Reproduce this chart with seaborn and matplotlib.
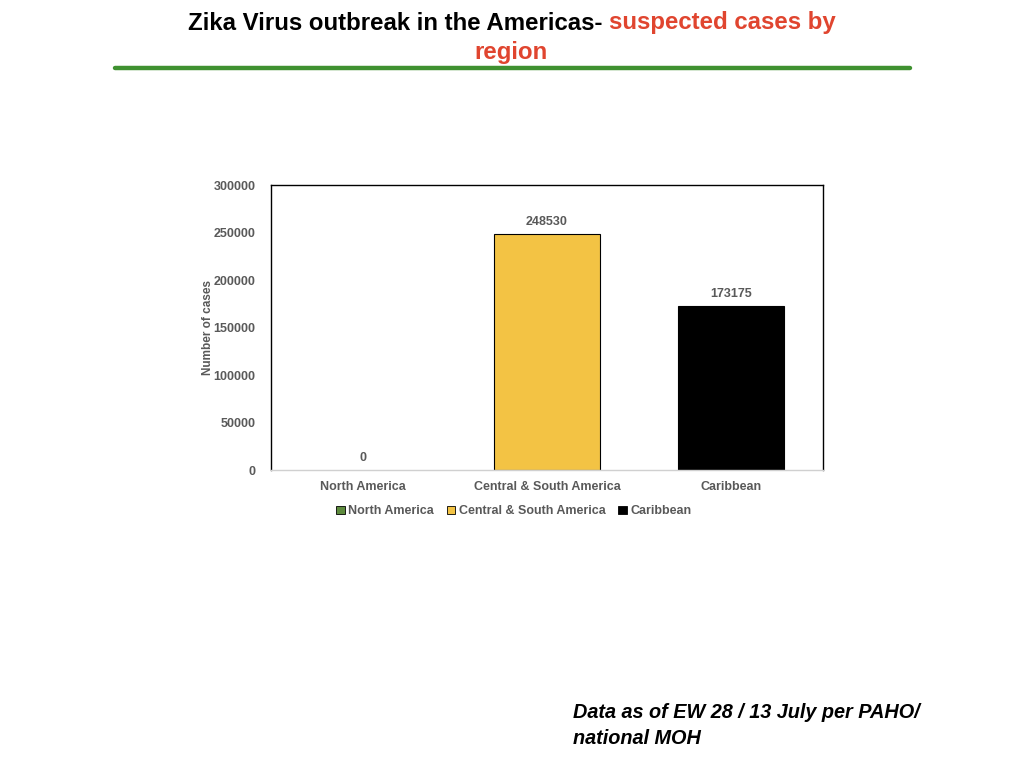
import pandas as pd
import matplotlib
matplotlib.use("Agg")
import matplotlib.pyplot as plt
import seaborn as sns

# dados
regioes = ["North America", "Central & South America", "Caribbean"]
casos = [0, 248530, 173175]
cores = ["#5E8B3E", "#F3C344", "#000000"]
yticks = [0, 50000, 100000, 150000, 200000, 250000, 300000]

sns.set_theme(style="white")
plt.rcParams['font.family'] = ['Liberation Sans', 'DejaVu Sans']

df = pd.DataFrame({"regiao": regioes, "casos": casos})

fig = plt.figure(figsize=(10.24, 7.68), dpi=100)
ax = fig.add_axes([0.2646, 0.388, 0.5391, 0.371])

sns.barplot(data=df, x="regiao", y="casos", hue="regiao", palette=cores,
            width=0.576, edgecolor="black", linewidth=0.8, saturation=1,
            legend=False, ax=ax)
# barra de valor zero sem contorno
for p, v in zip(ax.patches, casos):
    if v == 0:
        p.set_linewidth(0)

cinza = "#595959"
for i, v in enumerate(casos):
    ax.text(i, v + 6000, str(v), ha="center", va="bottom", fontsize=9,
            fontweight="bold", color=cinza)

ax.set_ylim(0, 300000)
ax.set_yticks(yticks)
ax.set_yticklabels([str(t) for t in yticks], fontsize=9, fontweight="bold", color=cinza)
ax.set_xlim(-0.5, 2.5)
ax.set_xlabel("")
ax.set_ylabel("Number of cases", fontsize=8.5, fontweight="bold", color=cinza, labelpad=0)
ax.tick_params(axis="x", labelsize=9, colors=cinza, length=0, pad=8)
ax.tick_params(axis="y", length=0, pad=11)
for lbl in ax.get_xticklabels():
    lbl.set_fontweight("bold")

for s in ["left", "top", "right"]:
    ax.spines[s].set_color("black")
    ax.spines[s].set_linewidth(1.0)
ax.spines["bottom"].set_color("#D0D0D0")
ax.spines["bottom"].set_linewidth(1.0)

# legenda
handles = [plt.Rectangle((0, 0), 1, 1, facecolor=c, edgecolor="black", linewidth=0.6)
           for c in cores]
leg = fig.legend(handles, regioes, loc="center", bbox_to_anchor=(0.502, 0.334),
                 ncol=3, frameon=False, fontsize=9, handlelength=0.7,
                 handleheight=0.7, handletextpad=0.3, columnspacing=1.0)
for t in leg.get_texts():
    t.set_fontweight("bold")
    t.set_color(cinza)

# titulo em duas cores
fonte_tit = ['Liberation Sans Narrow', 'Liberation Sans', 'DejaVu Sans']
fig.text(603 / 1024, 1 - 23 / 768, "Zika Virus outbreak in the Americas-", ha="right",
         va="center", fontsize=17.3, fontweight="bold", color="black", family=fonte_tit)
fig.text(609 / 1024, 1 - 23 / 768, "suspected cases by", ha="left",
         va="center", fontsize=17.3, fontweight="bold", color="#E0452F", family=fonte_tit)
fig.text(511 / 1024, 1 - 53 / 768, "region", ha="center",
         va="center", fontsize=17.3, fontweight="bold", color="#E0452F", family=fonte_tit)
fig.add_artist(plt.Line2D([115 / 1024, 910 / 1024], [1 - 68 / 768, 1 - 68 / 768],
                          color="#3F9130", linewidth=3.2, transform=fig.transFigure))

# rodape
fig.text(573 / 1024, 1 - 713 / 768, "Data as of EW 28 / 13 July per PAHO/",
         ha="left", va="center", fontsize=14.3, fontweight="bold", style="italic", color="black")
fig.text(573 / 1024, 1 - 738 / 768, "national MOH",
         ha="left", va="center", fontsize=14.3, fontweight="bold", style="italic", color="black")

fig.savefig("out.png", dpi=100)
